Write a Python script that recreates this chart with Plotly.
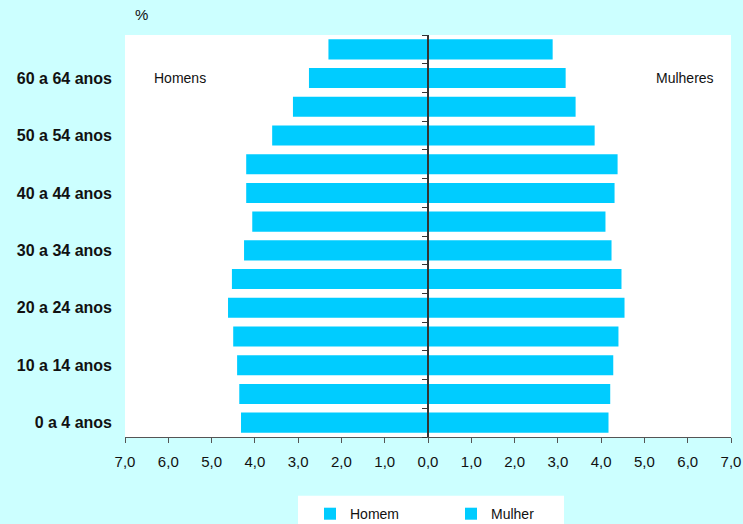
import plotly.graph_objects as go

# Age groups, bottom to top
faixas = ["0 a 4 anos", "5 a 9 anos", "10 a 14 anos", "15 a 19 anos", "20 a 24 anos",
          "25 a 29 anos", "30 a 34 anos", "35 a 39 anos", "40 a 44 anos", "45 a 49 anos",
          "50 a 54 anos", "55 a 59 anos", "60 a 64 anos", "65 anos e mais"]
# Share of total population (%)
homens = [4.32, 4.36, 4.41, 4.50, 4.62, 4.53, 4.25, 4.06, 4.20, 4.20, 3.60, 3.12, 2.75, 2.30]
mulheres = [4.17, 4.21, 4.28, 4.40, 4.54, 4.47, 4.24, 4.10, 4.31, 4.38, 3.85, 3.41, 3.18, 2.88]
# Labelled age groups and x tick values
faixas_rotuladas = faixas[0:13:2]
x_ticks = list(range(-7, 8))
x_ticktext = [f"{abs(v)},0" for v in x_ticks]

COR = "#00CCFF"
FONTE = "Liberation Sans, Arial, sans-serif"

fig = go.Figure()
fig.add_trace(go.Bar(y=faixas, x=[-v for v in homens], orientation="h", name="Homem",
                     marker=dict(color=COR, line=dict(width=0)), yaxis="y"))
fig.add_trace(go.Bar(y=faixas, x=mulheres, orientation="h", name="Mulher",
                     marker=dict(color=COR, line=dict(width=0)), yaxis="y2"))

fig.update_layout(
    width=743, height=524,
    margin=dict(l=125, r=12, t=35, b=87, autoexpand=False),
    paper_bgcolor="#CCFFFF", plot_bgcolor="white",
    bargap=0.3,
    font=dict(family=FONTE, color="#111111"),
    xaxis=dict(range=[-7, 7], tickvals=x_ticks, ticktext=x_ticktext,
               ticks="outside", ticklen=5, tickcolor="#555555",
               showline=True, linecolor="#555555", linewidth=1,
               showgrid=False, zeroline=False, tickfont=dict(size=15),
               ticklabelstandoff=6, automargin=False),
    yaxis=dict(type="category", categoryorder="array", categoryarray=faixas,
               tickvals=faixas_rotuladas, ticks="", showline=False, showgrid=False,
               tickfont=dict(size=16, family=FONTE, weight="bold"),
               ticklabelstandoff=12, automargin=False),
    yaxis2=dict(type="category", categoryorder="array", categoryarray=faixas,
                overlaying="y", matches="y", anchor="free", position=0.5, side="left",
                showline=True, linecolor="#333333", linewidth=1.5,
                ticks="outside", ticklen=5, tickcolor="#333333",
                tickson="boundaries", showticklabels=False, showgrid=False,
                automargin=False),
    legend=dict(orientation="h", x=(310 - 125) / 606, xanchor="left",
                y=-0.152, yanchor="top",
                bgcolor="rgba(0,0,0,0)", font=dict(size=14),
                entrywidth=96, entrywidthmode="pixels", traceorder="normal"),
    shapes=[dict(type="rect", xref="paper", yref="paper",
                 x0=(298 - 125) / 606, x1=(564 - 125) / 606, y0=-0.3, y1=-0.146,
                 fillcolor="white", line=dict(width=0), layer="below")],
    annotations=[
        dict(text="%", xref="paper", yref="paper", x=0.013, y=1.05,
             xanchor="left", yanchor="middle", showarrow=False, font=dict(size=15)),
        dict(text="Homens", xref="paper", yref="y", x=0.0446, y="60 a 64 anos",
             xanchor="left", yanchor="middle", showarrow=False, font=dict(size=14)),
        dict(text="Mulheres", xref="paper", yref="y", x=0.975, y="60 a 64 anos",
             xanchor="right", yanchor="middle", showarrow=False, font=dict(size=14)),
    ],
)

fig.write_html("out.html")
